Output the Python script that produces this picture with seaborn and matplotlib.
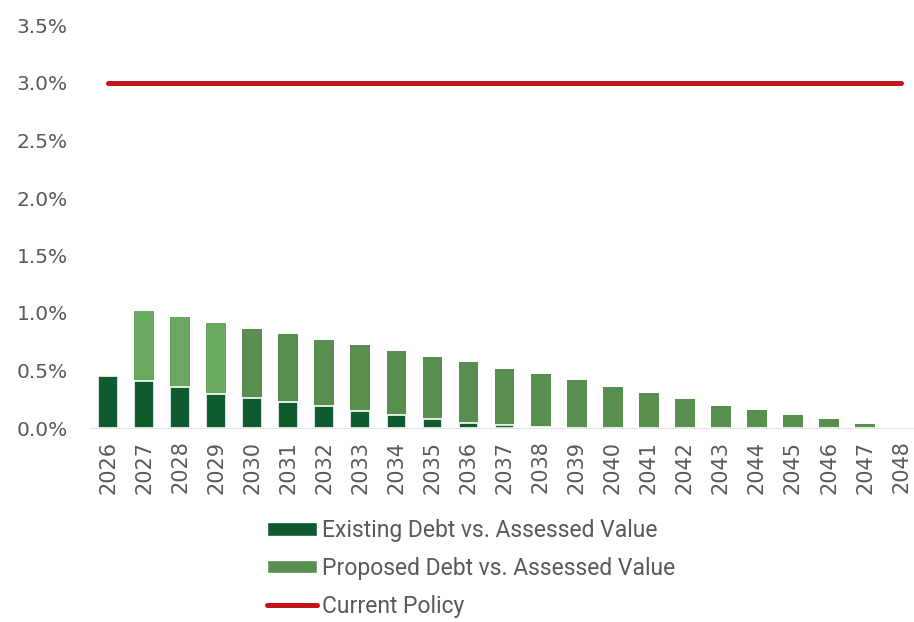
import numpy as np
import pandas as pd
import matplotlib
matplotlib.use("Agg")
import matplotlib.pyplot as plt
import seaborn as sns
from matplotlib.patches import Patch

years = [str(y) for y in range(2026, 2049)]
existing = [0.45, 0.41, 0.36, 0.30, 0.26, 0.23, 0.19, 0.15, 0.11, 0.08, 0.045, 0.025, 0.01,
            0, 0, 0, 0, 0, 0, 0, 0, 0, 0]
total = [0.45, 1.02, 0.965, 0.91, 0.86, 0.82, 0.765, 0.72, 0.67, 0.62, 0.57, 0.515, 0.47,
         0.42, 0.36, 0.305, 0.25, 0.19, 0.155, 0.11, 0.08, 0.035, 0.0]
proposed = [t - e for t, e in zip(total, existing)]
policy = [3.0] * len(years)
yticks = [0.0, 0.5, 1.0, 1.5, 2.0, 2.5, 3.0, 3.5]

df = pd.DataFrame({"year": years, "existing": existing, "proposed": proposed})
df["total"] = df["existing"] + df["proposed"]

sns.set_theme(style="white")
plt.rcParams["font.family"] = ["DejaVu Sans"]

DARK = "#0e5b2f"
MID = "#588f4e"
LIGHT = "#6aa862"
RED = "#c3121c"
GREY = "#595959"

fig = plt.figure(figsize=(9.14, 6.22), dpi=100)
W, H = 914, 622
ax = fig.add_axes([90 / W, 1 - 428 / H, (914 - 90) / W, (428 - 25.5) / H])

sns.barplot(data=df, x="year", y="total", color=MID, saturation=1, width=0.55,
            label="Proposed Debt vs. Assessed Value", ax=ax, linewidth=0)
n = len(years)
for i, p in enumerate(ax.patches[:n]):
    if 1 <= i <= 3:
        p.set_facecolor(LIGHT)
sns.barplot(data=df, x="year", y="existing", color=DARK, saturation=1, width=0.55,
            label="Existing Debt vs. Assessed Value", ax=ax, edgecolor="white", linewidth=1.2)
sns.lineplot(x=np.arange(n), y=policy, color=RED, linewidth=3.6, ax=ax,
             label="Current Policy", solid_capstyle="round")

ax.set_xlim(-0.5, -0.5 + (914 - 90) / 36.05)
ax.set_ylim(0, 3.5)
ax.set_yticks(yticks)
ax.set_yticklabels([f"{v:.1f}%" for v in yticks])
ax.set_xlabel("")
ax.set_ylabel("")
ax.tick_params(axis="y", length=0, pad=16, labelsize=14.5, labelcolor=GREY)
ax.tick_params(axis="x", length=0, pad=9, labelsize=15, labelcolor=GREY, rotation=90)
for s in ["top", "right", "left"]:
    ax.spines[s].set_visible(False)
ax.spines["bottom"].set_color("#e6e6e6")
ax.spines["bottom"].set_linewidth(0.8)

handles, labels = ax.get_legend_handles_labels()
order = [labels.index("Existing Debt vs. Assessed Value"),
         labels.index("Proposed Debt vs. Assessed Value"),
         labels.index("Current Policy")]
if ax.get_legend():
    ax.get_legend().remove()
hs = [Patch(facecolor=DARK), Patch(facecolor=MID), handles[order[2]]]
leg = fig.legend(hs, [labels[i] for i in order], loc="upper left",
                 bbox_to_anchor=(267 / W, 1 - 519 / H), frameon=False,
                 borderpad=0, borderaxespad=0, handlelength=2.2, handleheight=0.52,
                 handletextpad=0.22, labelspacing=0.65,
                 prop={"family": "Roboto", "size": 16.5})
for t in leg.get_texts():
    t.set_color(GREY)

fig.savefig("out.png", dpi=100, facecolor="white")
